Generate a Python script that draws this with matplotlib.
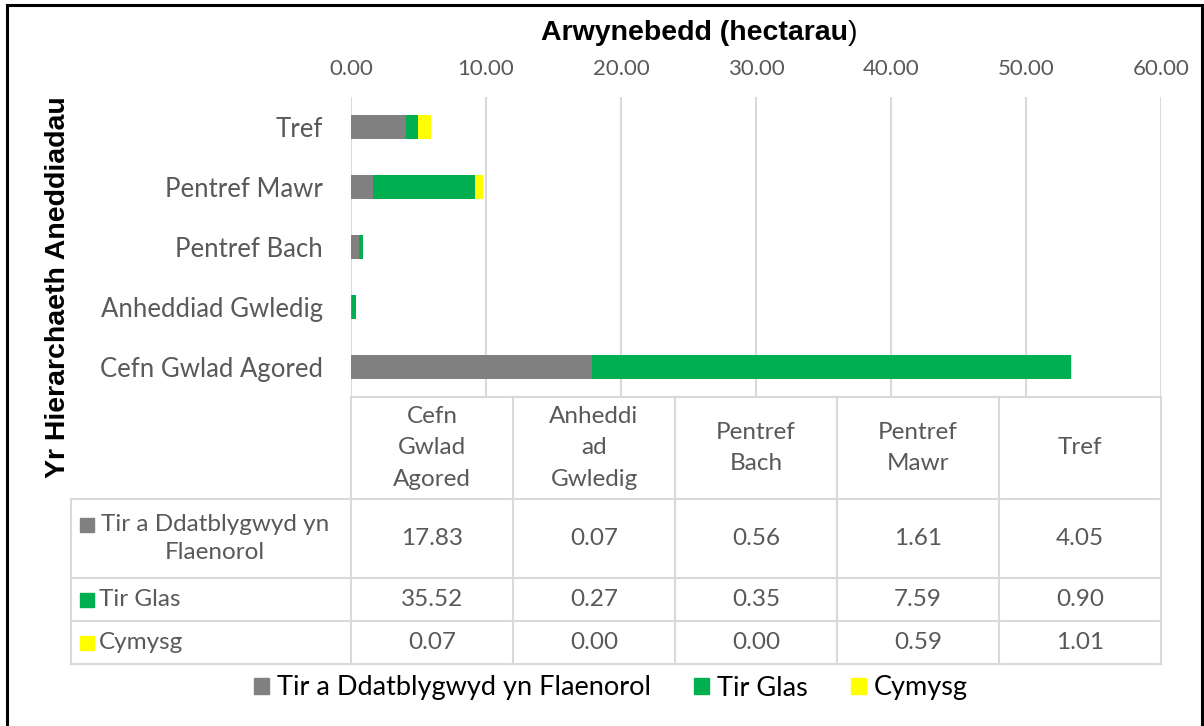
import numpy as np
import matplotlib
matplotlib.use('Agg')
from matplotlib import pyplot as plt
from matplotlib.patches import Patch, Rectangle
from matplotlib.transforms import offset_copy

# Settlement hierarchy categories (bottom to top in the chart, left to right in the table)
categories = ['Cefn Gwlad Agored', 'Anheddiad Gwledig', 'Pentref Bach',
              'Pentref Mawr', 'Tref']
header_labels = ['Cefn\nGwlad\nAgored', 'Anheddi\nad\nGwledig', 'Pentref\nBach',
                 'Pentref\nMawr', 'Tref']
series_names = ['Tir a Ddatblygwyd yn Flaenorol', 'Tir Glas', 'Cymysg']
table_names = ['Tir a Ddatblygwyd yn\nFlaenorol', 'Tir Glas', 'Cymysg']
developed = [17.83, 0.07, 0.56, 1.61, 4.05]
greenfield = [35.52, 0.27, 0.35, 7.59, 0.90]
mixed = [0.07, 0.00, 0.00, 0.59, 1.01]
colors = ['#808080', '#00B050', '#FFFF00']
x_ticks = [0, 10, 20, 30, 40, 50, 60]

W, H = 1204, 726
text_grey = '#595959'
line_grey = '#D9D9D9'
font = ['Lato', 'DejaVu Sans']
bold_font = ['Liberation Sans', 'DejaVu Sans']

fig = plt.figure(figsize=(W / 100, H / 100), dpi=100)

# Main bar chart area.
ax = fig.add_axes([351 / W, 1 - 397 / H, 810 / W, 300 / H])
y = np.arange(len(categories))
left = np.zeros(len(categories))
for vals, c in zip([developed, greenfield, mixed], colors):
    ax.barh(y, vals, left=left, height=0.4, color=c, zorder=3)
    left += np.array(vals)

ax.set_xlim(0, 60)
ax.set_ylim(-0.5, len(categories) - 0.5)
ax.xaxis.tick_top()
ax.set_xticks(x_ticks)
ax.set_xticklabels([f'{t:.2f}' for t in x_ticks], family=font, fontsize=16,
                   color=text_grey)
ax.set_yticks(y)
ax.set_yticklabels(categories, family=font, fontsize=18.5, color=text_grey)
ax.tick_params(axis='both', length=0)
ax.tick_params(axis='x', pad=13)
ax.tick_params(axis='y', pad=20)
ax.grid(axis='x', color=line_grey, lw=1.5, zorder=0)
for s in ax.spines.values():
    s.set_visible(False)

# Title (closing bracket is not bold in the original) and axis label.
t1 = fig.text(541 / W, 1 - 33 / H, 'Arwynebedd (hectarau', ha='left', va='center',
              family=bold_font, fontsize=20.5, weight='bold')
fig.canvas.draw()
bb = t1.get_window_extent()
fig.text(bb.x1 / W, 1 - 33 / H, ')', ha='left', va='center',
         family=bold_font, fontsize=20.5)
fig.text(58 / W, 1 - 287 / H, 'Yr Hierarchaeth Aneddiadau', ha='center',
         va='center', rotation=90, family=bold_font, fontsize=20.5, weight='bold')

# Data table below the chart.
tax = fig.add_axes([71 / W, 1 - 664 / H, 1090 / W, 267 / H])
lw_col = 280 / 162
tax.set_xlim(-lw_col, 5)
rows = [0, 102, 181, 224, 267]
tax.set_ylim(rows[-1], 0)
tax.axis('off')
lkw = dict(color=line_grey, lw=1.5, solid_capstyle='projecting', clip_on=False)
tax.plot([0, 5], [0, 0], **lkw)
for r in rows[1:]:
    tax.plot([-lw_col, 5], [r, r], **lkw)
for i in range(6):
    tax.plot([i, i], [0, rows[-1]], **lkw)
tax.plot([-lw_col, -lw_col], [rows[1], rows[-1]], **lkw)

for i, lab in enumerate(header_labels):
    tax.text(i + 0.5, (rows[0] + rows[1]) / 2, lab, ha='center', va='center',
             family=font, fontsize=17.5, color=text_grey, linespacing=1.6)

marker_x = -lw_col + 16 / 162
for j, (vals, name, c) in enumerate(zip([developed, greenfield, mixed],
                                        table_names, colors)):
    yc = (rows[j + 1] + rows[j + 2]) / 2
    for i, v in enumerate(vals):
        tax.text(i + 0.5, yc, f'{v:.2f}', ha='center', va='center', family=font,
                 fontsize=17.5, color=text_grey)
    if '\n' in name:
        tax.plot(marker_x, yc - 14, marker='s', ms=10, color=c, clip_on=False)
        tax.text(-lw_col + 144 / 162, yc, name, ha='center', va='center',
                 family=font, fontsize=17.5, color=text_grey, linespacing=1.4,
                 multialignment='center')
    else:
        tax.plot(marker_x, yc, marker='s', ms=10, color=c, clip_on=False)
        tax.text(-lw_col + 28 / 162, yc, name, ha='left', va='center',
                 family=font, fontsize=17.5, color=text_grey)

# Legend.
handles = [Patch(color=c, label=n) for c, n in zip(colors, series_names)]
leg = fig.legend(handles=handles, loc='center', bbox_to_anchor=(611 / W, 1 - 688 / H),
                 ncol=3, frameon=False, handlelength=0.55, handleheight=0.55,
                 handletextpad=0.3, columnspacing=1.6, labelcolor='black',
                 prop={'family': font, 'size': 19.5})

# Chart border.
fig.add_artist(Rectangle((7 / W, -0.05), 1195 / W, 1.05 - 5 / H, fill=False,
                         edgecolor='black', lw=2.2, transform=fig.transFigure))

fig.savefig('out.png', dpi=100)
